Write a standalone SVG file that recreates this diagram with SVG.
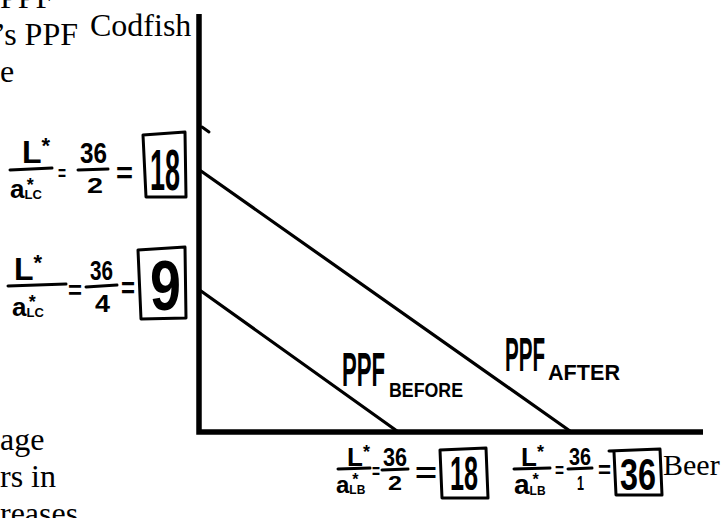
<svg xmlns="http://www.w3.org/2000/svg" width="723" height="518" viewBox="0 0 723 518">
<style>
.serif{font-family:"Liberation Serif","Times New Roman",serif;font-size:32px;fill:#000}
.hw{font-family:"Liberation Sans Narrow","Liberation Sans",Arial,sans-serif;fill:#000;font-weight:bold}
.ax{fill:none;stroke:#000;stroke-width:5.5;stroke-linejoin:miter}
.ppf{fill:none;stroke:#000;stroke-width:3.2;stroke-linecap:round}
.pen{fill:none;stroke:#000;stroke-width:3;stroke-linecap:round;stroke-linejoin:round}
</style>
<rect width="723" height="518" fill="#fff"/>
<g id="page-text">
<text class="serif" x="0" y="8">PPF</text>
<text class="serif" x="78" y="45" text-anchor="end">’s PPF</text>
<text class="serif" x="0" y="82">e</text>
<text class="serif" x="0" y="450">age</text>
<text class="serif" x="0" y="487">rs in</text>
<text class="serif" x="0" y="524">reases</text>
</g>
<g id="axes">
<path class="ax" d="M199,14 V432 H703"/>
<text id="codfish-label" class="serif" x="90" y="36">Codfish</text>
<text id="beer-label" class="serif" x="663" y="475" style="font-size:30px">Beer</text>
<path class="pen" d="M202,127 L209,132" stroke-width="2"/>
</g>
<g id="connectors">
<path id="ppf-after-line" class="ppf" d="M201,171 L570,431"/>
<path id="ppf-before-line" class="ppf" d="M201,291 L397,431"/>
</g>
<g id="ppf-before-label">
<text class="hw" x="342" y="386" font-size="48" textLength="43" lengthAdjust="spacingAndGlyphs">PPF</text>
<text class="hw" x="389" y="397" font-size="20" textLength="74" lengthAdjust="spacingAndGlyphs">BEFORE</text>
</g>
<g id="ppf-after-label">
<text class="hw" x="505" y="371" font-size="48" textLength="40" lengthAdjust="spacingAndGlyphs">PPF</text>
<text class="hw" x="548" y="380" font-size="22" textLength="72" lengthAdjust="spacingAndGlyphs">AFTER</text>
</g>
<g id="codfish-after">
<text class="hw" x="22" y="163" font-size="32">L<tspan font-size="22" dy="-10">*</tspan></text>
<path class="pen" d="M10,170 L52,168"/>
<text class="hw" x="10" y="198" font-size="26">a<tspan font-size="13" dy="1">LC</tspan><tspan font-size="18" dx="-15" dy="-8">*</tspan></text>
<text class="hw" x="58" y="180" font-size="20" textLength="8" lengthAdjust="spacingAndGlyphs">=</text>
<text class="hw" x="80" y="163" font-size="30" textLength="27" lengthAdjust="spacingAndGlyphs">36</text>
<path class="pen" d="M78,170 L108,169"/>
<text class="hw" x="87" y="193" font-size="22" textLength="16" lengthAdjust="spacingAndGlyphs">2</text>
<text class="hw" x="116" y="183" font-size="30" textLength="17" lengthAdjust="spacingAndGlyphs">=</text>
<path class="pen" d="M143,135 L185,132 L186,197 L146,197 Z"/>
<text class="hw" x="150" y="190" font-size="58" textLength="30" lengthAdjust="spacingAndGlyphs">18</text>
</g>
<g id="codfish-before">
<text class="hw" x="14" y="280" font-size="32">L<tspan font-size="22" dy="-10">*</tspan></text>
<path class="pen" d="M8,286 L66,284"/>
<text class="hw" x="12" y="316" font-size="26">a<tspan font-size="13" dy="1">LC</tspan><tspan font-size="18" dx="-15" dy="-9">*</tspan></text>
<text class="hw" x="68" y="299" font-size="26" textLength="14" lengthAdjust="spacingAndGlyphs">=</text>
<text class="hw" x="90" y="280" font-size="28" textLength="23" lengthAdjust="spacingAndGlyphs">36</text>
<path class="pen" d="M86,287 L117,285"/>
<text class="hw" x="95" y="312" font-size="24" textLength="15" lengthAdjust="spacingAndGlyphs">4</text>
<text class="hw" x="121" y="298" font-size="30" textLength="14" lengthAdjust="spacingAndGlyphs">=</text>
<path class="pen" d="M138,250 L185,247 L186,318 L141,319 Z"/>
<text class="hw" x="150" y="310" font-size="70" textLength="31" lengthAdjust="spacingAndGlyphs">9</text>
</g>
<g id="beer-before">
<text class="hw" x="347" y="466" font-size="26">L<tspan font-size="18" dy="-8">*</tspan></text>
<path class="pen" d="M338,469 L370,468"/>
<text class="hw" x="336" y="493" font-size="24">a<tspan font-size="12" dy="1">LB</tspan><tspan font-size="16" dx="-13" dy="-9">*</tspan></text>
<text class="hw" x="372" y="478" font-size="20" textLength="8" lengthAdjust="spacingAndGlyphs">=</text>
<text class="hw" x="383" y="466" font-size="26" textLength="24" lengthAdjust="spacingAndGlyphs">36</text>
<path class="pen" d="M382,470 L408,469"/>
<text class="hw" x="388" y="490" font-size="20" textLength="14" lengthAdjust="spacingAndGlyphs">2</text>
<text class="hw" x="415" y="482" font-size="28" textLength="22" lengthAdjust="spacingAndGlyphs">=</text>
<path class="pen" d="M440,450 L486,448 L488,498 L442,498 Z"/>
<text class="hw" x="450" y="490" font-size="48" textLength="28" lengthAdjust="spacingAndGlyphs">18</text>
</g>
<g id="beer-after">
<text class="hw" x="521" y="466" font-size="26">L<tspan font-size="18" dy="-8">*</tspan></text>
<path class="pen" d="M514,469 L550,468"/>
<text class="hw" x="514" y="494" font-size="28">a<tspan font-size="12" dy="1">LB</tspan><tspan font-size="16" dx="-13" dy="-10">*</tspan></text>
<text class="hw" x="555" y="477" font-size="20" textLength="9" lengthAdjust="spacingAndGlyphs">=</text>
<text class="hw" x="569" y="465" font-size="24" textLength="22" lengthAdjust="spacingAndGlyphs">36</text>
<path class="pen" d="M568,469 L592,468"/>
<text class="hw" x="577" y="490" font-size="20" textLength="7" lengthAdjust="spacingAndGlyphs">1</text>
<text class="hw" x="598" y="478" font-size="24" textLength="13" lengthAdjust="spacingAndGlyphs">=</text>
<path class="pen" d="M609,451 L660,449 L662,495 L616,495 L614,452"/>
<text class="hw" x="620" y="490" font-size="44" textLength="36" lengthAdjust="spacingAndGlyphs">36</text>
</g>
</svg>
